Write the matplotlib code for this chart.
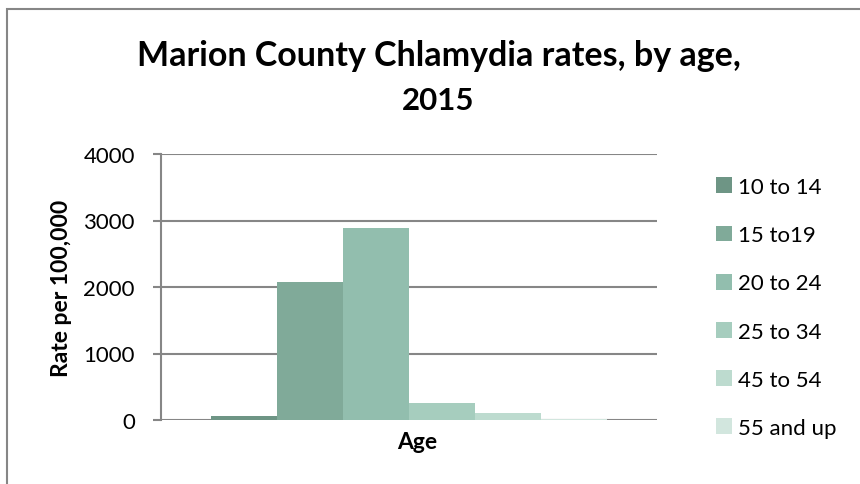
import matplotlib.pyplot as plt
from matplotlib.patches import Rectangle
import numpy as np

plt.rcParams['font.family'] = ['Lato', 'DejaVu Sans']

# Chlamydia rate per 100,000 for each age group
age_groups = ["10 to 14", "15 to19", "20 to 24", "25 to 34", "45 to 54", "55 and up"]
rates = [60, 2075, 2890, 255, 105, 15]
colors = ["#6E9585", "#80AA99", "#92BEAE", "#A6CDBE", "#BDDBCF", "#D2E6DE"]

fig = plt.figure(figsize=(8.6, 4.85), dpi=100)
W, H = 860, 485
ax = fig.add_axes([161 / W, 1 - 421 / H, 496 / W, 266 / H])

n = len(rates)
width = 0.8 / n
offsets = (np.arange(n) - (n - 1) / 2) * width
for i in range(n):
    ax.bar(offsets[i], rates[i], width=width, color=colors[i], label=age_groups[i], zorder=3)

ax.set_xlim(-0.5, 0.5)
ax.set_ylim(0, 4000)
ax.set_yticks([0, 1000, 2000, 3000, 4000])
ax.set_xticks([])
ax.grid(axis="y", color="#868686", linewidth=1.5, zorder=0)
for s in ["top", "right", "bottom"]:
    ax.spines[s].set_visible(False)
ax.spines["left"].set_color("#868686")
ax.spines["left"].set_linewidth(1.5)
ax.tick_params(axis="y", length=5.8, color="#868686", width=1.5, labelsize=16, pad=13)

# axis titles
fig.text(62 / W, 1 - 288 / H, "Rate per 100,000", rotation=90, ha="center", va="center",
         fontsize=16.5, fontweight="bold")
fig.text(417 / W, 1 - 443 / H, "Age", ha="center", va="center", fontsize=16.5, fontweight="bold")

# chart title, two lines
fig.text(439 / W, 1 - 56 / H, "Marion County Chlamydia rates, by age,", ha="center", va="center",
         fontsize=24.5, fontweight="bold")
fig.text(438 / W, 1 - 101 / H, "2015", ha="center", va="center", fontsize=22.5, fontweight="bold")

ax.legend(loc="upper left", bbox_to_anchor=(716 / W, 1 - 178 / H), bbox_transform=fig.transFigure,
          frameon=False, fontsize=16, handlelength=0.72, handleheight=0.72, handletextpad=0.27,
          labelspacing=1.27, borderaxespad=0, borderpad=0)

# chart frame
fig.patches.append(Rectangle((7 / W, -0.1), 1.2, 1 - 10 / H + 0.1, transform=fig.transFigure,
                             fill=False, edgecolor="#868686", linewidth=1.5))

plt.savefig("out.png")
